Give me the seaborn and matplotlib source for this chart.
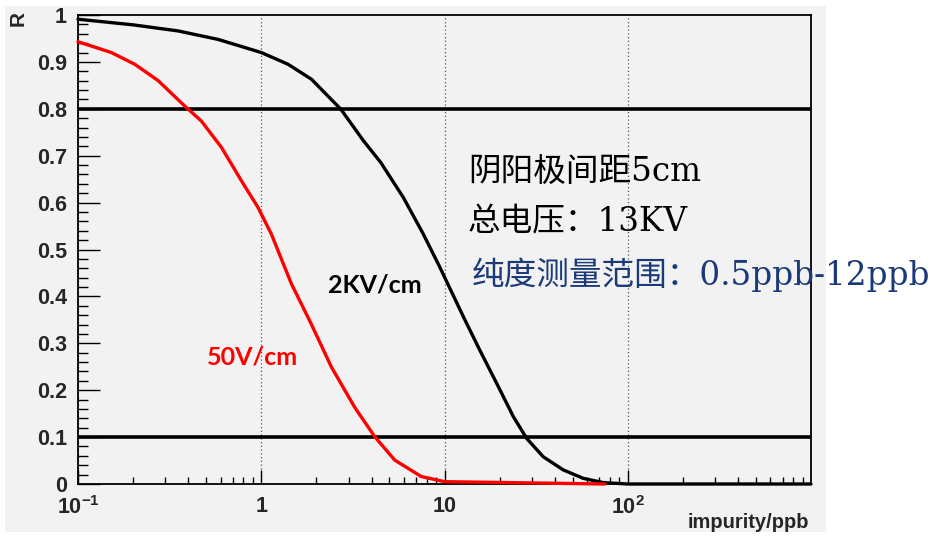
import numpy as np
import pandas as pd
import matplotlib
matplotlib.use("Agg")
import matplotlib.pyplot as plt
import matplotlib.ticker as mticker
from matplotlib.patches import Rectangle
import seaborn as sns

# ---- data ----
x_2kv = [0.1, 0.2, 0.352, 0.581, 1.0, 1.40, 1.88, 2.72, 3.61, 4.48, 5.96, 7.66, 9.44,
         12.7, 15.6, 19.3, 23.8, 28.1, 34.6, 44.5, 57.2, 73.6, 100, 1000]
r_2kv = [0.991, 0.979, 0.966, 0.948, 0.920, 0.895, 0.863, 0.799, 0.732, 0.686, 0.611,
         0.533, 0.462, 0.356, 0.285, 0.214, 0.143, 0.097, 0.058, 0.030, 0.012, 0.003,
         0.0, 0.0]
x_50v = [0.1, 0.152, 0.204, 0.274, 0.382, 0.471, 0.606, 0.778, 0.959, 1.135, 1.46,
         1.87, 2.41, 3.23, 4.16, 5.35, 7.46, 10.0, 75]
r_50v = [0.943, 0.920, 0.895, 0.860, 0.806, 0.774, 0.718, 0.647, 0.590, 0.533, 0.427,
         0.342, 0.250, 0.164, 0.101, 0.051, 0.016, 0.005, 0.0]
series_names = ["2KV/cm", "50V/cm"]
thresholds = [0.8, 0.1]
x_ticks = [0.1, 1, 10, 100]
x_tick_labels = [r"$\mathbf{10^{-1}}$", "1", "10", r"$\mathbf{10^{2}}$"]
y_ticks = [0, 0.1, 0.2, 0.3, 0.4, 0.5, 0.6, 0.7, 0.8, 0.9, 1.0]
y_tick_labels = ["0", "0.1", "0.2", "0.3", "0.4", "0.5", "0.6", "0.7", "0.8", "0.9", "1"]
info_lines = ["阴阳极间距5cm", "总电压：13KV", "纯度测量范围：0.5ppb-12ppb"]

df = pd.concat([
    pd.DataFrame({"impurity": x_2kv, "R": r_2kv, "field": series_names[0]}),
    pd.DataFrame({"impurity": x_50v, "R": r_50v, "field": series_names[1]}),
], ignore_index=True)

sns.set_style("ticks")
plt.rcParams["font.family"] = ["Liberation Sans", "DejaVu Sans"]
plt.rcParams["mathtext.fontset"] = "custom"
plt.rcParams["mathtext.rm"] = "Liberation Sans:bold"
plt.rcParams["mathtext.bf"] = "Liberation Sans:bold"

W, H = 938, 536
fig = plt.figure(figsize=(W / 100, H / 100), dpi=100, facecolor="white")
fig.patches.append(Rectangle((5 / W, 1 - 532 / H), 821 / W, 526 / H,
                             transform=fig.transFigure, facecolor="#f2f2f2",
                             edgecolor="none", zorder=-10))
ax = fig.add_axes([78 / W, 1 - 484 / H, (811 - 78) / W, (484 - 15) / H])
ax.set_facecolor("#f2f2f2")

sns.lineplot(data=df, x="impurity", y="R", hue="field", sort=False,
             palette={series_names[0]: "black", series_names[1]: "#ff0000"},
             linewidth=2.4, legend=False, ax=ax, clip_on=False, zorder=3)

for t in thresholds:
    ax.axhline(t, color="black", linewidth=2.6, zorder=2)

ax.set_xscale("log")
ax.set_xlim(0.1, 1000)
ax.set_ylim(0, 1.0)

ax.xaxis.set_major_locator(mticker.FixedLocator(x_ticks))
ax.xaxis.set_major_formatter(mticker.FixedFormatter(x_tick_labels))
ax.xaxis.set_minor_locator(mticker.LogLocator(base=10, subs=np.arange(2, 10)))
ax.xaxis.set_minor_formatter(mticker.NullFormatter())
ax.yaxis.set_major_locator(mticker.FixedLocator(y_ticks))
ax.yaxis.set_major_formatter(mticker.FixedFormatter(y_tick_labels))
ax.yaxis.set_minor_locator(mticker.MultipleLocator(0.02))

ax.xaxis.grid(True, which="major", color="#555555", linestyle=(0, (1, 2)), linewidth=0.9)
ax.yaxis.grid(False)
ax.set_axisbelow(True)

ax.tick_params(axis="both", which="both", direction="in", top=False, right=False,
               color="black", width=1.0)
ax.tick_params(axis="y", which="major", length=16, pad=8)
ax.tick_params(axis="y", which="minor", length=7)
ax.tick_params(axis="x", which="major", length=10, pad=9)
ax.tick_params(axis="x", which="minor", length=5)
for lab in ax.get_xticklabels() + ax.get_yticklabels():
    lab.set_fontweight("bold")
    lab.set_fontsize(15.5)

for s in ax.spines.values():
    s.set_color("black")
    s.set_linewidth(1.3)

ax.set_xlabel("")
ax.set_ylabel("")
fig.text(18 / W, 1 - 18 / H, "R", rotation=90, ha="center", va="center",
         fontsize=15, fontweight="bold")
fig.text(809 / W, 1 - 522 / H, "impurity/ppb", ha="right", va="center",
         fontsize=14.5, fontweight="bold")

# curve labels
fig.text(328 / W, 1 - 285 / H, series_names[0], ha="left", va="center",
         fontsize=18, fontweight="bold", color="black", family=["Lato", "DejaVu Sans"])
fig.text(207 / W, 1 - 357 / H, series_names[1], ha="left", va="center",
         fontsize=18, fontweight="bold", color="#ff0000", family=["Lato", "DejaVu Sans"])

# info text
info_pos = [(468, 172, "black"), (468, 222, "black"), (472, 275, "#1b3a78")]
for txt, (px, py, col) in zip(info_lines, info_pos):
    fig.text(px / W, 1 - py / H, txt, ha="left", va="center", fontsize=23.5,
             color=col, family=["DejaVu Serif", "Noto Sans CJK SC"])

fig.savefig("out.png", dpi=100, facecolor="white")
